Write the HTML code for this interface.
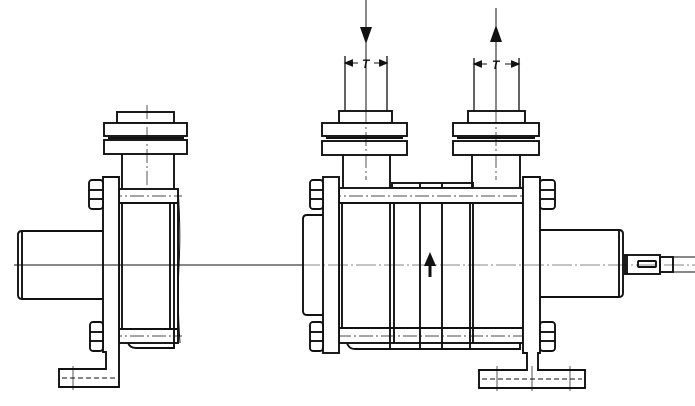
<!DOCTYPE html>
<html><head><meta charset="utf-8"><style>html,body{margin:0;padding:0;background:#fff}svg{display:block}</style></head>
<body>
<svg width="695" height="406" viewBox="0 0 695 406" xmlns="http://www.w3.org/2000/svg" fill="none" stroke="#111" stroke-width="1.9">
<!-- centerline -->
<line x1="14" y1="265" x2="300" y2="265" stroke-width="0.9"/>

<!-- ===== LEFT VIEW ===== -->
<rect x="117" y="112" width="57" height="11" fill="#fff"/>
<rect x="104" y="123" width="83" height="13" fill="#fff"/>
<line x1="108" y1="138" x2="184" y2="138"/>
<rect x="104" y="140" width="83" height="14" fill="#fff"/>
<line x1="122" y1="154" x2="122" y2="189"/><line x1="174" y1="154" x2="174" y2="189"/>
<line x1="147" y1="105" x2="147" y2="190" stroke-width="0.7" stroke-dasharray="14,3,2,3"/>
<!-- motor -->
<path d="M103 231 H22 Q18 231 18 235 V295 Q18 299 22 299 H103"/>
<line x1="22" y1="231" x2="22" y2="299"/>
<!-- body -->
<rect x="119" y="189" width="59" height="154" fill="#fff"/>
<line x1="119" y1="203" x2="178" y2="203"/><line x1="119" y1="329" x2="178" y2="329"/>
<line x1="122" y1="203" x2="122" y2="329"/>
<line x1="170" y1="203" x2="170" y2="329"/><line x1="174" y1="203" x2="174" y2="343"/>
<path d="M178 189 Q181 230 179 265 Q177 300 180 343" stroke-width="1"/>
<line x1="108" y1="196" x2="182" y2="196" stroke-width="0.7" stroke-dasharray="14,3,2,3"/>
<line x1="108" y1="336" x2="182" y2="336" stroke-width="0.7" stroke-dasharray="14,3,2,3"/>
<path d="M128 343 Q130 348 136 348 H174 V343"/>
<!-- plate + foot -->
<path d="M103 177 H119 V387 H59 V369 H106 V352 H103 Z" fill="#fff"/>
<line x1="62" y1="378" x2="116" y2="378" stroke-dasharray="5,3" stroke-width="1"/>
<line x1="73" y1="366" x2="73" y2="390" stroke-width="0.7"/>
<!-- nuts -->
<rect x="89" y="180" width="14" height="29" rx="3" fill="#fff"/>
<line x1="89" y1="190" x2="103" y2="190"/><line x1="89" y1="199" x2="103" y2="199"/>
<rect x="90" y="322" width="13" height="29" rx="3" fill="#fff"/>
<line x1="90" y1="332" x2="103" y2="332"/><line x1="90" y1="341" x2="103" y2="341"/>
<line x1="14" y1="265" x2="310" y2="265" stroke-width="0.9"/>

<!-- ===== RIGHT VIEW ===== -->
<line x1="366" y1="0" x2="366" y2="110" stroke-width="1"/>
<polygon points="360,27 372,27 366,44" fill="#111" stroke="none"/>
<line x1="345" y1="56" x2="345" y2="111" stroke-width="1.3"/><line x1="387" y1="56" x2="387" y2="111" stroke-width="1.3"/>
<line x1="346" y1="63" x2="358" y2="63" stroke-width="1"/><polygon points="346,63 352,60.5 352,65.5" fill="#111"/>
<line x1="374" y1="63" x2="386" y2="63" stroke-width="1"/><polygon points="386,63 380,60.5 380,65.5" fill="#111"/>
<text x="362" y="68" font-family="Liberation Sans, sans-serif" font-size="12" font-style="italic" font-weight="bold" fill="#111" stroke="none">T</text>
<line x1="496" y1="8" x2="496" y2="110" stroke-width="1"/>
<polygon points="490,42 502,42 496,25" fill="#111" stroke="none"/>
<line x1="474" y1="58" x2="474" y2="111" stroke-width="1.3"/><line x1="519" y1="58" x2="519" y2="111" stroke-width="1.3"/>
<line x1="475" y1="64" x2="487" y2="64" stroke-width="1"/><polygon points="475,64 481,61.5 481,66.5" fill="#111"/>
<line x1="505" y1="64" x2="518" y2="64" stroke-width="1"/><polygon points="518,64 512,61.5 512,66.5" fill="#111"/>
<text x="492" y="69" font-family="Liberation Sans, sans-serif" font-size="12" font-style="italic" font-weight="bold" fill="#111" stroke="none">T</text>

<rect x="339" y="111" width="53" height="12" fill="#fff"/>
<rect x="322" y="123" width="85" height="13" fill="#fff"/>
<line x1="326" y1="138" x2="403" y2="138"/>
<rect x="322" y="141" width="85" height="14" fill="#fff"/>
<line x1="343" y1="155" x2="343" y2="188"/><line x1="390" y1="155" x2="390" y2="188"/>
<rect x="468" y="111" width="57" height="12" fill="#fff"/>
<rect x="453" y="123" width="86" height="13" fill="#fff"/>
<line x1="457" y1="138" x2="535" y2="138"/>
<rect x="453" y="141" width="86" height="14" fill="#fff"/>
<line x1="472" y1="155" x2="472" y2="188"/><line x1="520" y1="155" x2="520" y2="188"/>
<line x1="366" y1="110" x2="366" y2="180" stroke-width="0.7" stroke-dasharray="14,3,2,3"/>
<line x1="496" y1="110" x2="496" y2="180" stroke-width="0.7" stroke-dasharray="14,3,2,3"/>

<rect x="392" y="183" width="81" height="5"/>
<line x1="420" y1="183" x2="420" y2="188"/><line x1="442" y1="183" x2="442" y2="188"/>
<path d="M323 215 H307 Q303 215 303 219 V311 Q303 315 307 315 H323" fill="#fff"/>
<rect x="339" y="188" width="184" height="155" fill="#fff"/>
<line x1="339" y1="203" x2="523" y2="203"/><line x1="339" y1="328" x2="523" y2="328"/>
<line x1="342" y1="203" x2="342" y2="328"/>
<line x1="390" y1="203" x2="390" y2="343"/><line x1="394" y1="203" x2="394" y2="343"/>
<line x1="420" y1="203" x2="420" y2="343"/><line x1="442" y1="203" x2="442" y2="343"/>
<line x1="470" y1="203" x2="470" y2="343"/><line x1="473" y1="203" x2="473" y2="343"/>
<line x1="327" y1="196" x2="536" y2="196" stroke-width="0.7" stroke-dasharray="14,3,2,3"/>
<line x1="315" y1="336" x2="550" y2="336" stroke-width="0.7" stroke-dasharray="14,3,2,3"/>
<path d="M347 343 Q349 349 355 349 H520 V343"/>
<line x1="390" y1="343" x2="390" y2="349"/><line x1="420" y1="343" x2="420" y2="349"/><line x1="442" y1="343" x2="442" y2="349"/><line x1="470" y1="343" x2="470" y2="349"/>
<line x1="430" y1="258" x2="430" y2="277" stroke-width="3"/>
<polygon points="424,266 436,266 430,252" fill="#111" stroke="none"/>
<rect x="323" y="177" width="16" height="176" fill="#fff"/>
<rect x="310" y="180" width="13" height="29" rx="3" fill="#fff"/>
<line x1="310" y1="190" x2="323" y2="190"/><line x1="310" y1="199" x2="323" y2="199"/>
<rect x="310" y="322" width="13" height="29" rx="3" fill="#fff"/>
<line x1="310" y1="332" x2="323" y2="332"/><line x1="310" y1="341" x2="323" y2="341"/>
<path d="M540 230 H619 Q623 230 623 234 V293 Q623 297 619 297 H540" fill="#fff"/>
<line x1="619" y1="230" x2="619" y2="297"/>
<rect x="625" y="255" width="35" height="19" fill="#fff"/>
<line x1="627" y1="255" x2="627" y2="274"/>
<rect x="638" y="261" width="18" height="6" rx="1"/>
<rect x="660" y="257" width="13" height="15"/>
<line x1="673" y1="257" x2="695" y2="257" stroke-width="1"/><line x1="673" y1="272" x2="695" y2="272" stroke-width="1"/>
<path d="M523 177 H540 V353 H538 V370 H585 V388 H479 V370 H527 V353 H523 Z" fill="#fff"/>
<line x1="482" y1="379" x2="582" y2="379" stroke-dasharray="5,3" stroke-width="1"/>
<line x1="497" y1="366" x2="497" y2="391" stroke-width="0.7"/><line x1="532" y1="366" x2="532" y2="391" stroke-width="0.7"/><line x1="570" y1="366" x2="570" y2="391" stroke-width="0.7"/>
<rect x="540" y="180" width="15" height="29" rx="3" fill="#fff"/>
<line x1="540" y1="190" x2="555" y2="190"/><line x1="540" y1="199" x2="555" y2="199"/>
<rect x="540" y="322" width="15" height="29" rx="3" fill="#fff"/>
<line x1="540" y1="332" x2="555" y2="332"/><line x1="540" y1="341" x2="555" y2="341"/>
<line x1="300" y1="265" x2="695" y2="265" stroke-width="0.6" stroke-dasharray="20,3,2,3"/>
</svg>
</body></html>
